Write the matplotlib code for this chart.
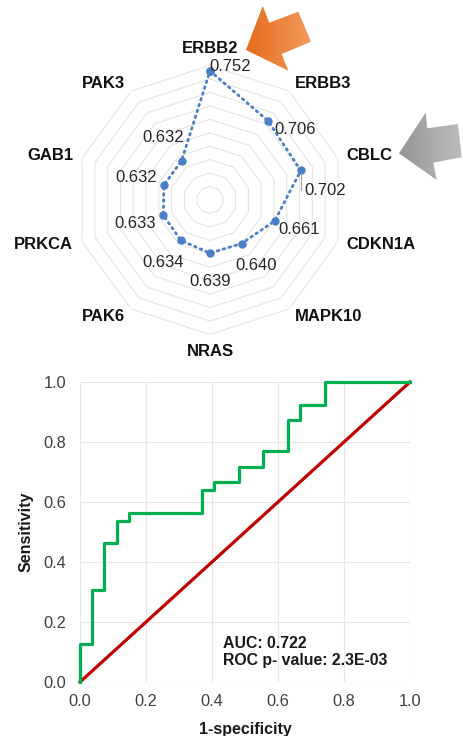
"""Radar chart of gene AUCs above an ROC curve, saved as out.png."""

import matplotlib

matplotlib.use("Agg")
import matplotlib.pyplot as plt
import numpy as np
from matplotlib.patches import Polygon

plt.rcParams["font.family"] = ["Liberation Sans", "DejaVu Sans"]

# radar data, clockwise from the top
GENES = ["ERBB2", "ERBB3", "CBLC", "CDKN1A", "MAPK10", "NRAS", "PAK6", "PRKCA", "GAB1", "PAK3"]
AUCS = [0.752, 0.706, 0.702, 0.661, 0.640, 0.639, 0.634, 0.633, 0.632, 0.632]
R_MIN, R_MAX, R_STEP = 0.56, 0.76, 0.02

# ROC curve (step points) for the highlighted panel
FPR = [0, 0, 0.037, 0.074, 0.111, 0.148, 0.371, 0.407, 0.481, 0.556, 0.629, 0.667, 0.741, 1.0]
TPR = [0, 0.128, 0.308, 0.462, 0.538, 0.564, 0.641, 0.667, 0.718, 0.769, 0.872, 0.923, 1.0, 1.0]
AUC_TEXT = "AUC: 0.722\nROC p- value: 2.3E-03"
TICKS = [0.0, 0.2, 0.4, 0.6, 0.8, 1.0]

# label offsets in pixels (dx, dy) relative to each point
VALUE_OFFSETS = [(20, 4), (27, -9), (24, -20), (25, -9), (15, -22),
                 (0, -28), (-18, -22), (-28, -8), (-28, 8), (-18, 23)]

W, H = 464, 736
fig = plt.figure(figsize=(W / 100, H / 100), dpi=100)

# ---- radar ----
cx, cy, rad = 210, 200, 134.5
ax = fig.add_axes([(cx - rad) / W, (H - cy - rad) / H, 2 * rad / W, 2 * rad / H], projection="polar")
ax.set_theta_zero_location("N")
ax.set_theta_direction(-1)
ax.set_ylim(R_MIN, R_MAX)
ax.grid(False)
ax.set_xticks([])
ax.set_yticks([])
ax.spines["polar"].set_visible(False)
ax.patch.set_visible(False)

theta = np.linspace(0, 2 * np.pi, len(GENES), endpoint=False)
ring_theta = np.append(theta, theta[0])
for r in np.arange(R_MIN + R_STEP, R_MAX + 1e-9, R_STEP):
    ax.plot(ring_theta, [r] * len(ring_theta), color="#e4e4e4", lw=0.8, zorder=1)

blue = "#4a7ec6"
ax.plot(ring_theta, AUCS + AUCS[:1], color=blue, lw=2.0, ls=(0, (0.6, 1.6)),
        dash_capstyle="round", marker="o", markersize=5, zorder=3)

label_r = R_MAX + 0.014
for t, gene in zip(theta, GENES):
    s = np.sin(t)
    if abs(s) < 1e-6:
        ha = "center"
        va = "bottom" if np.cos(t) > 0 else "top"
    else:
        ha = "left" if s > 0 else "right"
        va = "center"
    ax.text(t, label_r, gene, ha=ha, va=va, fontsize=12, fontweight="bold", color="#111111")

for i, (t, v) in enumerate(zip(theta, AUCS)):
    dx, dy = VALUE_OFFSETS[i]
    kw = {}
    if GENES[i] == "CBLC":
        kw["arrowprops"] = dict(arrowstyle="-", color="#a6a6a6", lw=0.8, shrinkA=0, shrinkB=3,
                                connectionstyle="angle,angleA=0,angleB=90,rad=0")
    ax.annotate(f"{v:.3f}", (t, v), xytext=(dx, dy), textcoords="offset pixels",
                ha="center", va="center", fontsize=12, color="#262626", **kw)

# ---- arrows (figure overlay) ----
over = fig.add_axes([0, 0, 1, 1], zorder=5)
over.set_xlim(0, W)
over.set_ylim(H, 0)
over.axis("off")


def gradient_arrow(pts, c0, c1):
    pts = np.asarray(pts)
    poly = Polygon(pts, closed=True, facecolor="none", edgecolor="none")
    over.add_patch(poly)
    x0, x1 = pts[:, 0].min(), pts[:, 0].max()
    y0, y1 = pts[:, 1].min(), pts[:, 1].max()
    c0 = np.array(matplotlib.colors.to_rgb(c0))
    c1 = np.array(matplotlib.colors.to_rgb(c1))
    g = np.linspace(0, 1, 64)[None, :, None]
    img = c0 + (c1 - c0) * g
    im = over.imshow(np.repeat(img, 2, axis=0), extent=(x0, x1, y1, y0), aspect="auto",
                     interpolation="bilinear")
    im.set_clip_path(poly)


gradient_arrow([(246, 50), (262.7, 6), (269.3, 22.7), (298.3, 11.7), (311, 41.7),
                (281.7, 54), (288.3, 70.7)], "#e56d1c", "#f39a5c")
gradient_arrow([(399, 153.3), (425.7, 112.7), (427.3, 128.3), (458, 124), (461.7, 157.3),
                (433.3, 162.7), (436.7, 180)], "#969696", "#bcbcbc")
over.set_xlim(0, W)
over.set_ylim(H, 0)

# ---- ROC ----
left, right, top, bottom = 80, 410, 382, 682
ax2 = fig.add_axes([left / W, (H - bottom) / H, (right - left) / W, (bottom - top) / H])
ax2.set_xlim(0, 1)
ax2.set_ylim(0, 1)
ax2.set_xticks(TICKS)
ax2.set_yticks(TICKS)
ax2.set_xticklabels([f"{t:.1f}" for t in TICKS])
ax2.set_yticklabels([f"{t:.1f}" for t in TICKS])
ax2.tick_params(length=0, labelsize=11.8, labelcolor="#404040")
ax2.tick_params(axis="x", pad=9)
ax2.tick_params(axis="y", pad=10)
for sp in ax2.spines.values():
    sp.set_visible(False)
ax2.grid(True, color="#e6e6e6", lw=0.8)
ax2.set_axisbelow(True)

ax2.plot([0, 1], [0, 1], color="#c00000", lw=2.3, clip_on=False, zorder=3)
ax2.step(FPR, TPR, where="post", color="#00b050", lw=2.3, clip_on=False, zorder=4)
ax2.text(0.432, 0.10, AUC_TEXT, ha="left", va="center", fontsize=11.4, fontweight="bold",
         color="#1a1a1a", linespacing=1.25)

ax2.set_xlabel("1-specificity", fontsize=11.5, fontweight="bold", color="#1a1a1a", labelpad=9)
ax2.set_ylabel("Sensitivity", fontsize=11.5, fontweight="bold", color="#1a1a1a", labelpad=7)

fig.savefig("out.png", dpi=100)
